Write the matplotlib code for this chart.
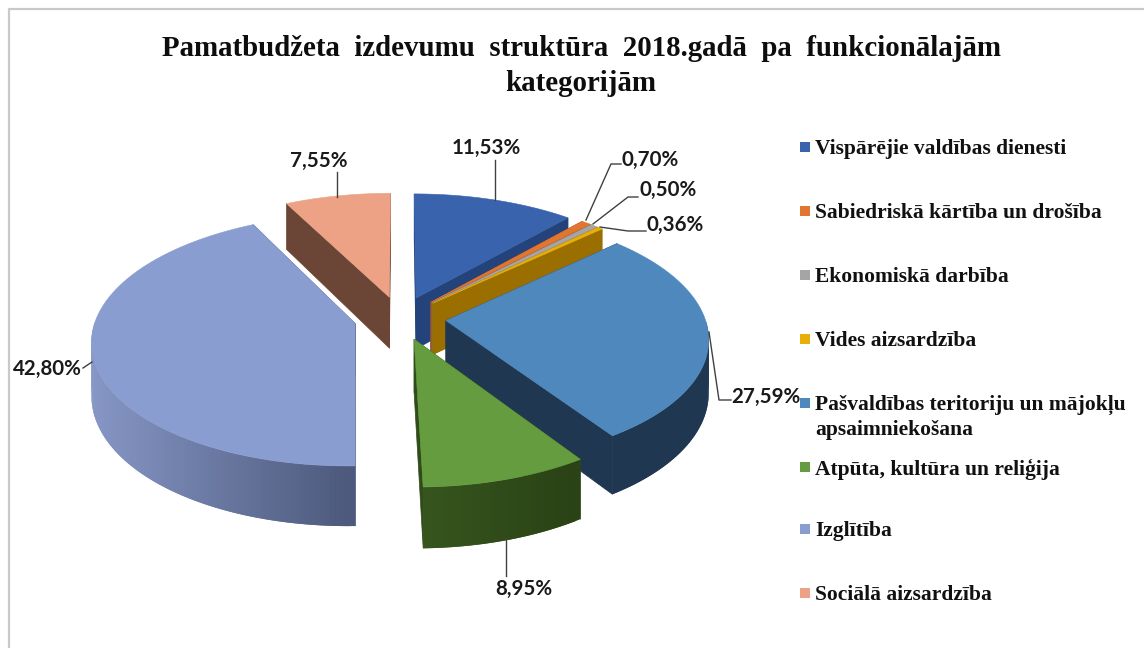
import numpy as np
import matplotlib
matplotlib.use("Agg")
import matplotlib.pyplot as plt
from matplotlib.patches import Polygon, Rectangle
from matplotlib.colors import to_rgb

title = "Pamatbudžeta  izdevumu  struktūra  2018.gadā  pa  funkcionālajām\nkategorijām"
categories = ["Vispārējie valdības dienesti", "Sabiedriskā kārtība un drošība", "Ekonomiskā darbība",
              "Vides aizsardzība", "Pašvaldības teritoriju un mājokļu\napsaimniekošana",
              "Atpūta, kultūra un reliģija", "Izglītība", "Sociālā aizsardzība"]
values = [11.53, 0.70, 0.50, 0.36, 27.59, 8.95, 42.80, 7.55]
top_colors = ["#3a63ad", "#e2752f", "#a5a5a5", "#e8ae0a", "#4f88bc", "#659c3f", "#8a9dd1", "#eda285"]
cut_colors = ["#23437a", "#9c4f1e", "#707070", "#9a6f00", "#1f3750", "#2f4c1a", "#4d5a7d", "#6b4535"]
rim_left = ["#23437a", "#9c4f1e", "#707070", "#9a6f00", "#1f3750", "#37561e", "#8797c6", "#6b4535"]
rim_right = ["#23437a", "#9c4f1e", "#707070", "#9a6f00", "#1f3750", "#2a4215", "#4d5a7d", "#6b4535"]
draw_order = [7, 0, 1, 2, 3, 6, 4, 5]

# pie projection
cx, cy = 400, 318
rx, ry = 259, 122.5
persp = 0.13
explode = 0.178
depth = 52


def project(u, v, drop=0):
    w = 1 - persp * v
    return cx + rx * u / w, cy + (ry * v + drop) / w


fig = plt.figure(figsize=(11.44, 6.48), dpi=100)
ax = fig.add_axes([0, 0, 1, 1])
ax.set_xlim(0, 1144)
ax.set_ylim(648, 0)
ax.axis("off")

# frame
ax.plot([9, 9, 1144], [648, 9, 9], color="#c9c9c9", lw=1.6)

ends = np.cumsum(values) / np.sum(values) * 2 * np.pi
starts = ends - np.array(values) / np.sum(values) * 2 * np.pi

for i in draw_order:
    a0, a1 = starts[i], ends[i]
    mid = (a0 + a1) / 2
    ou, ov = explode * np.sin(mid), -explode * np.cos(mid)
    ang = np.linspace(a0, a1, max(4, int((a1 - a0) * 60)))
    u = ou + np.sin(ang)
    v = ov - np.cos(ang)
    xt, yt = project(u, v)
    xb, yb = project(u, v, depth)
    x0, y0 = project(ou, ov)
    x0b, y0b = project(ou, ov, depth)
    # cut faces
    for k in (0, -1):
        ax.add_patch(Polygon([(x0, y0), (xt[k], yt[k]), (xb[k], yb[k]), (x0b, y0b)],
                             closed=True, fc=cut_colors[i], ec=cut_colors[i], lw=0.5))
    # outer wall, only the part facing us, shaded from left to right
    c0, c1 = np.array(to_rgb(rim_left[i])), np.array(to_rgb(rim_right[i]))
    span = xt.max() - xt.min()
    order = np.argsort(xt)
    for k in order:
        if k == len(ang) - 1 or np.cos(ang[k]) > 0:
            continue
        n = min(k + 3, len(ang))
        t = (xt[k] - xt.min()) / span
        c = c0 * (1 - t) + c1 * t
        poly = list(zip(xt[k:n], yt[k:n])) + list(zip(xb[k:n][::-1], yb[k:n][::-1]))
        ax.add_patch(Polygon(poly, closed=True, fc=c, ec="none"))
    # top
    pts = [(x0, y0)] + list(zip(xt, yt))
    ax.add_patch(Polygon(pts, closed=True, fc=top_colors[i], ec=top_colors[i], lw=0.4))

# labels
labels = [f"{val:.2f}%".replace(".", ",") for val in values]
label_pos = [(486, 148), (650, 160), (668, 190), (675, 225), (766, 397), (524, 589), (47, 369), (319, 161)]
leaders = [[(621, 164), (611, 164), (586, 220)],
           [(638, 197), (628, 197), (593, 224)],
           [(646, 231), (628, 231), (600, 227)],
           [(709, 332), (719, 400), (731, 400)],
           [(506, 538), (506, 576)],
           [(83, 368), (92, 362)],
           [(337, 172), (337, 197)]]
leaders.insert(0, [(495, 160), (495, 200)])
for lab, pos, line in zip(labels, label_pos, leaders):
    ax.plot([p[0] for p in line], [p[1] for p in line], color="#404040", lw=1)
    ax.text(pos[0], pos[1], lab, ha="center", va="center", fontsize=14.8, fontweight="bold",
            family="Lato", color="#1a1a1a")

# title
ax.text(581, 66, title, ha="center", va="center", fontsize=20.75, fontweight="bold",
        family="Liberation Serif", color="#0d0d0d", linespacing=1.36)

# legend
legend_y = [147, 211, 275, 339, 403, 467, 529, 593]
for name, col, y in zip(categories, top_colors, legend_y):
    ax.add_patch(Rectangle((800, y - 5), 10, 10, fc=col, ec="none"))
    ax.text(815, y - 8, name, ha="left", va="top", fontsize=15.5, fontweight="bold",
            family="Liberation Serif", color="#111111", linespacing=1.3)

fig.savefig("out.png", dpi=100)
